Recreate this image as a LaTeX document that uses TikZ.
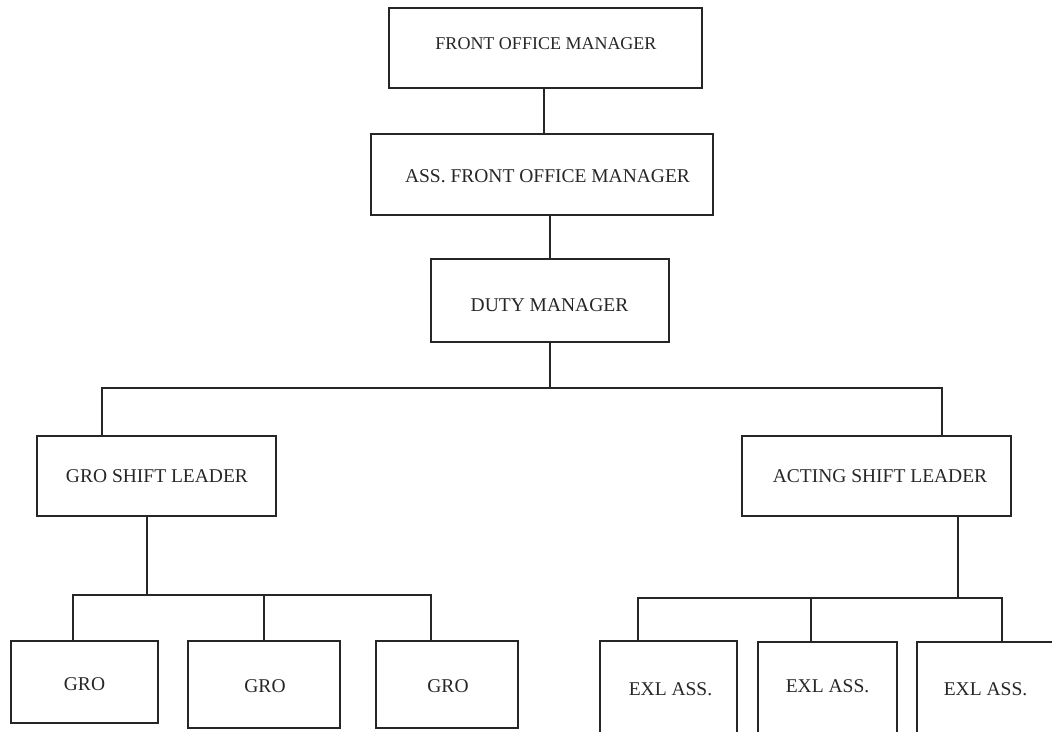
\documentclass[tikz,border=0pt]{standalone}
\usepackage{fontspec}
\setmainfont{Liberation Serif}
\begin{document}
\begin{tikzpicture}[x=1pt,y=-1pt,
  box/.style={draw=black!85, line width=1.2pt, inner sep=0pt},
  lbl/.style={font=\fontsize{19.5}{22}\selectfont, inner sep=0pt, anchor=base, text=black!85},
  wire/.style={draw=black!85, line width=1.2pt}]
\useasboundingbox (0,0) rectangle (1052,731);
\clip (0,0) rectangle (1052,731);

% boxes
\node[box, minimum width=313, minimum height=80] (fom)  at (545.5,48)  {};
\node[box, minimum width=342, minimum height=81] (afom) at (542,174.5) {};
\node[box, minimum width=238, minimum height=83] (dm)   at (550,300.5) {};
\node[box, minimum width=239, minimum height=80] (gsl)  at (156.5,476) {};
\node[box, minimum width=269, minimum height=80] (asl)  at (876.5,476) {};
\node[box, minimum width=147, minimum height=82] (gro1) at (84.5,682)  {};
\node[box, minimum width=152, minimum height=87] (gro2) at (264,684.5) {};
\node[box, minimum width=142, minimum height=87] (gro3) at (447,684.5) {};
\node[box, minimum width=137, minimum height=110] (exl1) at (668.5,696) {};
\node[box, minimum width=139, minimum height=110] (exl2) at (827.5,697) {};
\node[box, minimum width=163, minimum height=110] (exl3) at (998.5,697) {};

% labels
\node[lbl, font=\fontsize{18}{21}\selectfont] (fomt) at (546,49) {FRONT OFFICE MANAGER};
\node[lbl] (afomt) at (547.5,182) {ASS. FRONT OFFICE MANAGER};
\node[lbl] (dmt)   at (549.5,311) {DUTY MANAGER};
\node[lbl] (gslt)  at (157,482)   {GRO SHIFT LEADER};
\node[lbl] (aslt)  at (880,482)   {ACTING SHIFT LEADER};
\node[lbl] (gro1t) at (84.5,690)  {GRO};
\node[lbl] (gro2t) at (265,692)   {GRO};
\node[lbl] (gro3t) at (448,692)   {GRO};
\node[lbl] (exl1t) at (670.5,695) {EXL ASS.};
\node[lbl] (exl2t) at (827.5,692) {EXL ASS.};
\node[lbl] (exl3t) at (985.5,695) {EXL ASS.};

% junction points
\coordinate (k1) at (544,0);
\coordinate (k2) at (550,0);
\coordinate (busL) at (102,388);
\coordinate (busR) at (942,388);
\coordinate (k3) at (147,0);
\coordinate (gL) at (73,595);
\coordinate (gM) at (264,595);
\coordinate (gR) at (431,595);
\coordinate (k4) at (958,0);
\coordinate (eL) at (638,598);
\coordinate (eM) at (811,598);
\coordinate (eR) at (1002,598);

% connectors
\draw[wire] (fom.south -| k1) -- (afom.north -| k1);
\draw[wire] (afom.south -| k2) -- (dm.north -| k2);
\draw[wire] (dm.south -| k2) -- (k2 |- busL);
\draw[wire] (gsl.north -| busL) -- (busL) -- (busR) -- (asl.north -| busR);

\draw[wire] (gsl.south -| k3) -- (k3 |- gM);
\draw[wire] (gro1.north -| gL) -- (gL) -- (gR) -- (gro3.north -| gR);
\draw[wire] (gM) -- (gro2.north -| gM);

\draw[wire] (asl.south -| k4) -- (k4 |- eM);
\draw[wire] (exl1.north -| eL) -- (eL) -- (eR) -- (exl3.north -| eR);
\draw[wire] (eM) -- (exl2.north -| eM);
\end{tikzpicture}
\end{document}
